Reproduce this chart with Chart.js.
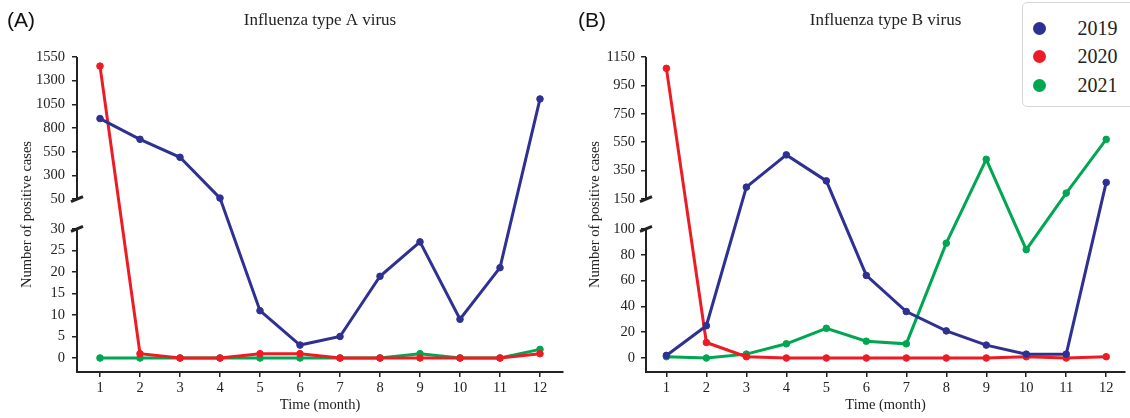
<!DOCTYPE html>
<html lang="en">
<head>
<meta charset="UTF-8">
<title>Influenza A and B positive cases</title>
<script src="https://cdn.jsdelivr.net/npm/chart.js"></script>
<style>
    body { margin: 0; background: #fff; }
    #wrap { position: relative; width: 1130px; height: 418px; overflow: hidden; }
    #chartA { position: absolute; left: 0; top: 0; }
    #chartB { position: absolute; left: 575px; top: 0; }
    #legend {
        position: absolute; left: 1022px; top: 2px;
        width: 130px; height: 105px;
        border: 1.5px solid #d6d6d6; border-radius: 5px;
        background: #fff; padding-top: 11px; box-sizing: border-box;
        font-family: 'Liberation Serif', serif; font-size: 20px; color: #222;
    }
    .item { display: flex; align-items: center; height: 28.5px; }
    .dot { width: 13px; height: 13px; border-radius: 50%; margin-left: 9.5px; margin-right: 32px; }
</style>
</head>
<body>
<div id="wrap">
    <canvas id="chartA" width="575" height="418"></canvas>
    <canvas id="chartB" width="555" height="418"></canvas>
    <div id="legend"></div>
</div>
<script>
const months = [1, 2, 3, 4, 5, 6, 7, 8, 9, 10, 11, 12];
const years = ['2019', '2020', '2021'];
const colors = ['#2E3192', '#ED1C24', '#00A651'];

// influenza A, cases per month
const fluA2019 = [900, 681, 491, 60, 11, 3, 5, 19, 27, 9, 21, 1107];
const fluA2020 = [1454, 1, 0, 0, 1, 1, 0, 0, 0, 0, 0, 1];
const fluA2021 = [0, 0, 0, 0, 0, 0, 0, 0, 1, 0, 0, 2];

// influenza B, cases per month
const fluB2019 = [2, 25, 234, 461, 278, 64, 36, 21, 10, 3, 3, 267];
const fluB2020 = [1070, 12, 1, 0, 0, 0, 0, 0, 0, 1, 0, 1];
const fluB2021 = [1, 0, 3, 11, 23, 13, 11, 89, 430, 84, 192, 570];

const fluATicks = [0, 5, 10, 15, 20, 25, 30, 50, 300, 550, 800, 1050, 1300, 1550];
const fluBTicks = [0, 20, 40, 60, 80, 100, 150, 350, 550, 750, 950, 1150];

Chart.defaults.font.family = "'Liberation Serif', serif";
Chart.defaults.color = '#222';

// linear scale with a gap between breakLow and breakHigh
class BrokenLinearScale extends Chart.LinearScale {
    toDecimal(v) {
        const o = this.options;
        const upper = 1 - o.lowerFrac - o.gapFrac;
        if (v <= o.breakLow) return (v - this.min) / (o.breakLow - this.min) * o.lowerFrac;
        if (v >= o.breakHigh) return o.lowerFrac + o.gapFrac + (v - o.breakHigh) / (this.max - o.breakHigh) * upper;
        return o.lowerFrac + (v - o.breakLow) / (o.breakHigh - o.breakLow) * o.gapFrac;
    }
    getPixelForValue(v) {
        if (v === null || v === undefined) return NaN;
        return this.getPixelForDecimal(this.toDecimal(v));
    }
    getValueForPixel(p) {
        const o = this.options;
        const d = this._reversePixels
            ? 1 - (p - this._startPixel) / this._length
            : (p - this._startPixel) / this._length;
        const upper = 1 - o.lowerFrac - o.gapFrac;
        if (d <= o.lowerFrac) return this.min + d / o.lowerFrac * (o.breakLow - this.min);
        if (d >= o.lowerFrac + o.gapFrac) return o.breakHigh + (d - o.lowerFrac - o.gapFrac) / upper * (this.max - o.breakHigh);
        return o.breakLow + (d - o.lowerFrac) / o.gapFrac * (o.breakHigh - o.breakLow);
    }
}
BrokenLinearScale.id = 'brokenLinear';
BrokenLinearScale.defaults = Chart.LinearScale.defaults;
Chart.register(BrokenLinearScale);

// y axis line with the gap and the two slanted marks
const axisBreak = {
    id: 'axisBreak',
    beforeDatasetsDraw(chart) {
        const y = chart.scales.y;
        const area = chart.chartArea;
        const ctx = chart.ctx;
        const x0 = area.left;
        const pLow = y.getPixelForValue(y.options.breakLow);
        const pHigh = y.getPixelForValue(y.options.breakHigh);
        ctx.save();
        ctx.strokeStyle = '#222';
        ctx.lineWidth = 2;
        ctx.beginPath();
        ctx.moveTo(x0, area.bottom + 1);
        ctx.lineTo(x0, pLow);
        ctx.moveTo(x0, pHigh);
        ctx.lineTo(x0, area.top);
        ctx.stroke();
        ctx.lineWidth = 3;
        ctx.beginPath();
        [pLow, pHigh].forEach(p => {
            ctx.moveTo(x0 - 6, p + 2.5);
            ctx.lineTo(x0 + 6, p - 2.5);
        });
        ctx.stroke();
        ctx.restore();
    }
};

const panelLabel = {
    id: 'panelLabel',
    afterDraw(chart, args, opts) {
        const ctx = chart.ctx;
        ctx.save();
        ctx.font = "21px 'Liberation Sans', sans-serif";
        ctx.fillStyle = '#111';
        ctx.textBaseline = 'middle';
        ctx.fillText(opts.text, opts.left, 21);
        ctx.restore();
    }
};

function makeDataset(label, values, color) {
    return {
        label: label,
        data: months.map((m, i) => ({ x: m, y: values[i] })),
        borderColor: color,
        backgroundColor: color,
        pointBackgroundColor: color,
        pointBorderColor: color,
        borderWidth: 3,
        pointRadius: 3.3,
        pointBorderWidth: 1,
        tension: 0,
        clip: false
    };
}

function makeChart(id, cfg) {
    const font14 = { family: "'Liberation Serif', serif", size: 14.5 };
    return new Chart(document.getElementById(id), {
        type: 'line',
        data: {
            datasets: [
                makeDataset(years[0], cfg.series[0], colors[0]),
                makeDataset(years[1], cfg.series[1], colors[1]),
                makeDataset(years[2], cfg.series[2], colors[2])
            ]
        },
        options: {
            responsive: false,
            devicePixelRatio: 1,
            animation: false,
            layout: { padding: { left: 0, right: cfg.padRight, top: 0, bottom: 0 } },
            scales: {
                x: {
                    type: 'linear',
                    min: cfg.xMin,
                    max: cfg.xMax,
                    afterBuildTicks: s => { s.ticks = months.map(v => ({ value: v })); },
                    afterFit: s => { s.height = 46; },
                    border: { display: true, color: '#222', width: 2 },
                    grid: { drawOnChartArea: false, tickLength: 5, color: '#222', lineWidth: 1.5 },
                    ticks: { autoSkip: false, maxRotation: 0, padding: 2, font: font14, color: '#222', callback: v => String(v) },
                    title: { display: true, text: 'Time (month)', font: font14, color: '#222', padding: { top: 0, bottom: 4 } }
                },
                y: {
                    type: 'brokenLinear',
                    min: cfg.yMin,
                    max: cfg.yMax,
                    breakLow: cfg.breakLow,
                    breakHigh: cfg.breakHigh,
                    lowerFrac: 0.454,
                    gapFrac: 0.095,
                    afterBuildTicks: s => { s.ticks = cfg.ticks.map(v => ({ value: v })); },
                    afterFit: s => { s.width = cfg.axisWidth; },
                    border: { display: false },
                    grid: { drawOnChartArea: false, tickLength: 5, color: '#222', lineWidth: 1.5 },
                    ticks: { autoSkip: false, padding: cfg.tickPad, font: font14, color: '#222', callback: v => String(v) },
                    title: { display: true, text: 'Number of positive cases', font: font14, color: '#222', padding: { top: cfg.titlePad, bottom: 0 } }
                }
            },
            plugins: {
                legend: { display: false },
                tooltip: { enabled: false },
                title: {
                    display: true,
                    text: cfg.title,
                    fullSize: false,
                    color: '#222',
                    font: { family: "'Liberation Serif', serif", size: 17, weight: 'normal' },
                    padding: { top: 10, bottom: 26.6 }
                },
                panelLabel: { text: cfg.label, left: cfg.labelLeft }
            }
        },
        plugins: [axisBreak, panelLabel]
    });
}

makeChart('chartA', {
    title: 'Influenza type A virus', label: '(A)', labelLeft: 7,
    series: [fluA2019, fluA2020, fluA2021], ticks: fluATicks,
    yMin: -3.26, yMax: 1550, breakLow: 30, breakHigh: 50,
    xMin: 0.425, xMax: 12.575, axisWidth: 77, padRight: 12, tickPad: 7, titlePad: 18
});

makeChart('chartB', {
    title: 'Influenza type B virus', label: '(B)', labelLeft: 3,
    series: [fluB2019, fluB2020, fluB2021], ticks: fluBTicks,
    yMin: -10.85, yMax: 1150, breakLow: 100, breakHigh: 150,
    xMin: 0.49, xMax: 12.47, axisWidth: 71, padRight: 2, tickPad: 6, titlePad: 11
});

const legend = document.getElementById('legend');
years.forEach((y, i) => {
    const item = document.createElement('div');
    item.className = 'item';
    const dot = document.createElement('span');
    dot.className = 'dot';
    dot.style.background = colors[i];
    const txt = document.createElement('span');
    txt.textContent = y;
    item.appendChild(dot);
    item.appendChild(txt);
    legend.appendChild(item);
});
</script>
</body>
</html>
